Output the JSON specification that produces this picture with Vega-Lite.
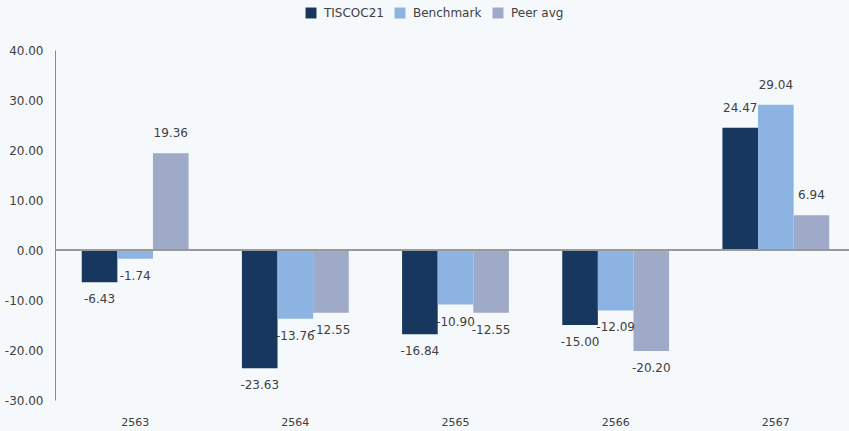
{
  "$schema": "https://vega.github.io/schema/vega-lite/v6.json",
  "autosize": "none",
  "padding": {"left": 55, "top": 50, "right": 0, "bottom": 31},
  "width": 801,
  "height": 350,
  "background": "#f6f9fc",
  "config": {
    "view": {"stroke": null},
    "font": "DejaVu Sans",
    "locale": {"number": {"decimal": ".", "thousands": ",", "grouping": [3], "currency": ["$", ""], "minus": "-"}},
    "axis": {"labelFont": "DejaVu Sans", "labelColor": "#404040", "labelFontSize": 12}
  },
  "data": {
    "values": [
      {"year": "2563", "series": "TISCOC21", "value": -6.43},
      {"year": "2563", "series": "Benchmark", "value": -1.74},
      {"year": "2563", "series": "Peer avg", "value": 19.36},
      {"year": "2564", "series": "TISCOC21", "value": -23.63},
      {"year": "2564", "series": "Benchmark", "value": -13.76},
      {"year": "2564", "series": "Peer avg", "value": -12.55},
      {"year": "2565", "series": "TISCOC21", "value": -16.84},
      {"year": "2565", "series": "Benchmark", "value": -10.90},
      {"year": "2565", "series": "Peer avg", "value": -12.55},
      {"year": "2566", "series": "TISCOC21", "value": -15.00},
      {"year": "2566", "series": "Benchmark", "value": -12.09},
      {"year": "2566", "series": "Peer avg", "value": -20.20},
      {"year": "2567", "series": "TISCOC21", "value": 24.47},
      {"year": "2567", "series": "Benchmark", "value": 29.04},
      {"year": "2567", "series": "Peer avg", "value": 6.94}
    ]
  },
  "encoding": {
    "x": {
      "field": "year", "type": "nominal", "title": null,
      "scale": {"paddingInner": 0.333, "paddingOuter": 0.167},
      "axis": {"labelAngle": 0, "domain": false, "ticks": false, "labelPadding": 16, "labelFontSize": 11}
    },
    "xOffset": {"field": "series", "type": "nominal", "sort": ["TISCOC21", "Benchmark", "Peer avg"]},
    "y": {
      "field": "value", "type": "quantitative", "title": null,
      "scale": {"domain": [-30, 40], "nice": false},
      "axis": {"values": [-30, -20, -10, 0, 10, 20, 30, 40], "format": ".2f", "grid": false, "ticks": false, "domainColor": "#888888", "labelPadding": 12}
    }
  },
  "layer": [
    {
      "mark": {"type": "bar"},
      "encoding": {
        "color": {
          "field": "series", "type": "nominal",
          "sort": ["TISCOC21", "Benchmark", "Peer avg"],
          "scale": {"domain": ["TISCOC21", "Benchmark", "Peer avg"], "range": ["#17375e", "#8db3e2", "#9eaac8"]},
          "legend": {
            "title": null, "orient": "none", "direction": "horizontal",
            "legendX": 250, "legendY": -43,
            "symbolType": "square", "symbolSize": 120, "symbolStrokeWidth": 0,
            "labelFontSize": 12, "labelColor": "#404040", "columnPadding": 10, "labelOffset": 7
          }
        }
      }
    },
    {
      "mark": {"type": "rule", "color": "#999999", "strokeWidth": 1},
      "encoding": {"y": {"datum": 0}, "x": {"value": 0}, "x2": {"value": 801}, "xOffset": null}
    },
    {
      "transform": [{"filter": "datum.value >= 0"}],
      "mark": {"type": "text", "dy": -20, "fontSize": 12, "color": "#404040"},
      "encoding": {"text": {"field": "value", "type": "quantitative", "format": ".2f"}}
    },
    {
      "transform": [{"filter": "datum.value < 0"}],
      "mark": {"type": "text", "dy": 17, "fontSize": 12, "color": "#404040"},
      "encoding": {"text": {"field": "value", "type": "quantitative", "format": ".2f"}}
    }
  ]
}
